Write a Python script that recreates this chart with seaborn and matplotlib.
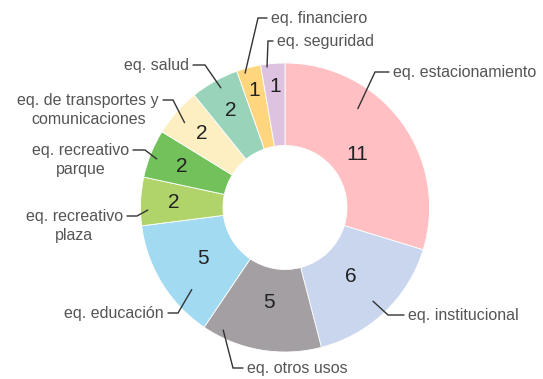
import numpy as np
import matplotlib
matplotlib.use("Agg")
import matplotlib.pyplot as plt
import seaborn as sns

# Data
categories = ["eq. estacionamiento", "eq. institucional", "eq. otros usos", "eq. educación",
              "eq. recreativo\nplaza", "eq. recreativo\nparque",
              "eq. de transportes y\ncomunicaciones", "eq. salud",
              "eq. financiero", "eq. seguridad"]
counts = [11, 6, 5, 5, 2, 2, 2, 2, 1, 1]
colors = ["#FFBFC3", "#C9D6EE", "#A39FA3", "#A1DAF1", "#B0D46A",
          "#72C15A", "#FEEFC2", "#99D3BA", "#FFD57E", "#DEC3E0"]

# Figure geometry in pixels (top-left origin)
W, H = 543, 379
CX, CY = 285, 207.5
R_OUT, R_IN = 144.5, 62
LABEL_FS = 11.5

# Leader layout: (position along wedge, radius fraction), elbow px, text px, side
layout = [
    ((0.34, 0.85), (375, 72), (393, 72), "left"),
    ((0.51, 0.89), (388, 315), (408, 315), "left"),
    ((0.85, 0.95), (233, 368), (247, 368), "left"),
    ((0.30, 0.86), (178, 313), (164, 313), "right"),
    ((0.32, 0.95), (137, 216), (123, 216), "right"),
    ((0.44, 0.95), (145, 150), (129, 150), "right"),
    ((0.44, 0.91), (173, 100), (159, 100), "right"),
    ((0.55, 0.94), (205, 65), (189, 65), "right"),
    ((0.30, 0.97), (258, 18), (271, 18), "left"),
    ((0.25, 0.98), (268, 41), (277, 41), "left"),
]

sns.set_theme(style="white")
plt.rcParams["font.family"] = ["Liberation Sans", "DejaVu Sans"]


def px(x, y):
    return x, H - y


fig = plt.figure(figsize=(W / 100, H / 100), dpi=100)
ax = fig.add_axes([0, 0, 1, 1])

wedges, _ = ax.pie(counts, colors=colors, startangle=90, counterclock=False,
                   center=px(CX, CY), radius=R_OUT,
                   wedgeprops=dict(width=R_OUT - R_IN, edgecolor="white", linewidth=0.6))

# value labels: small slices sit further out
for w, v in zip(wedges, counts):
    mid = np.deg2rad((w.theta1 + w.theta2) / 2)
    r = R_OUT * np.interp(v, [1, 2, 5, 11], [0.84, 0.77, 0.67, 0.62])
    x, y = px(CX, CY)
    ax.text(x + r * np.cos(mid), y + r * np.sin(mid), str(v), ha="center", va="center",
            fontsize=15, color="#222222")

# category labels with leader lines
fs_px = LABEL_FS * 100 / 72
for w, name, (start, elbow, txt, side) in zip(wedges, categories, layout):
    frac, rf = start
    ang = np.deg2rad(w.theta2 - frac * (w.theta2 - w.theta1))
    cx, cy = px(CX, CY)
    sx, sy = cx + rf * R_OUT * np.cos(ang), cy + rf * R_OUT * np.sin(ang)
    ex, ey = px(*elbow)
    tx, ty = px(*txt)
    end_x = tx - 4 if side == "left" else tx + 4
    ax.plot([sx, ex, end_x], [sy, ey, ey], color="#333333", lw=1.0, solid_joinstyle="miter")
    ax.text(tx, ty + 0.43 * fs_px, name, ha=side, va="top", multialignment="center",
            linespacing=1.35, fontsize=LABEL_FS, color="#555555")

ax.set_xlim(0, W)
ax.set_ylim(0, H)
ax.set_aspect("equal")
ax.axis("off")

fig.savefig("out.png", dpi=100)
